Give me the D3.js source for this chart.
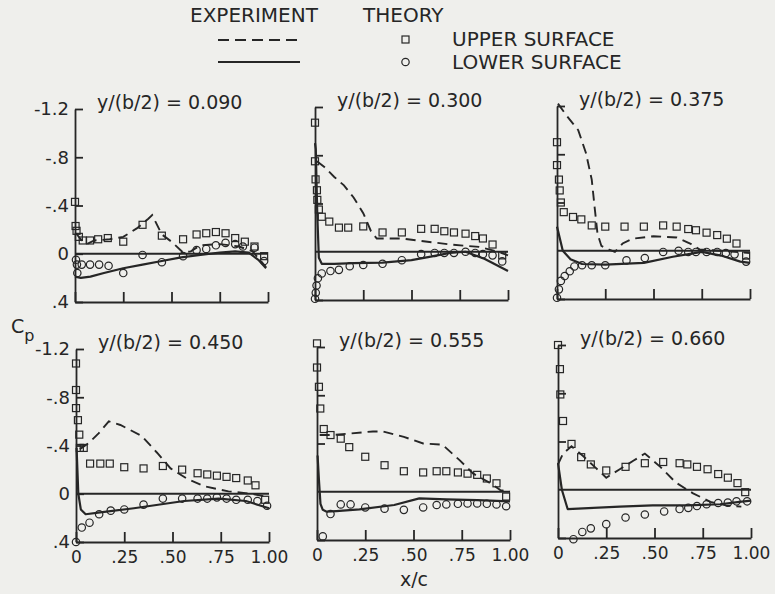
<!DOCTYPE html>
<html><head><meta charset="utf-8">
<script src="https://cdn.jsdelivr.net/npm/d3@7"></script>
<style>
html,body{margin:0;padding:0;background:#efefec;}
svg{display:block;font-family:"DejaVu Sans",sans-serif;}
</style></head><body>
<svg id="chart" width="775" height="594"></svg>
<script>
// Spanwise stations y/(b/2), one panel each
const stations = ["0.090", "0.300", "0.375", "0.450", "0.555", "0.660"];

// Pressure coefficient distributions, pairs of [x/c, Cp]
// dashed curves
const dash090 = [[0.005,-0.17],[0.03,-0.12],[0.06,-0.08],[0.1,-0.11],[0.18,-0.12],[0.25,-0.14],[0.32,-0.21],[0.38,-0.29],[0.4,-0.32],[0.45,-0.16],[0.5,-0.1],[0.56,-0.01],[0.6,-0.02],[0.65,-0.07],[0.75,-0.08],[0.85,-0.06],[0.92,-0.02],[0.99,0.11]];
const dash300 = [[0.01,-0.75],[0.05,-0.7],[0.1,-0.62],[0.15,-0.55],[0.2,-0.45],[0.25,-0.32],[0.29,-0.17],[0.32,-0.11],[0.45,-0.11],[0.55,-0.09],[0.7,-0.06],[0.85,-0.04],[0.95,0.0],[1.0,0.03]];
const dash375 = [[0.005,-1.22],[0.05,-1.12],[0.11,-1.0],[0.15,-0.81],[0.18,-0.59],[0.195,-0.36],[0.21,-0.14],[0.23,-0.04],[0.27,-0.01],[0.3,0.01],[0.34,-0.06],[0.39,-0.1],[0.5,-0.12],[0.62,-0.11],[0.69,-0.06],[0.74,-0.01],[0.85,0.0],[1.0,0.02]];
const dash450 = [[0.02,-0.37],[0.065,-0.42],[0.117,-0.5],[0.17,-0.6],[0.23,-0.57],[0.34,-0.48],[0.42,-0.34],[0.49,-0.21],[0.58,-0.12],[0.67,-0.06],[0.79,-0.02],[0.91,0.0],[1.0,0.03]];
const dash555 = [[0.014,-0.47],[0.075,-0.47],[0.15,-0.48],[0.29,-0.5],[0.34,-0.5],[0.45,-0.455],[0.55,-0.4],[0.65,-0.39],[0.74,-0.26],[0.81,-0.15],[0.9,-0.07],[0.95,-0.014],[1.0,0.0]];
const dash660 = [[0,-0.21],[0.026,-0.3],[0.07,-0.36],[0.13,-0.28],[0.19,-0.19],[0.25,-0.1],[0.32,-0.17],[0.39,-0.24],[0.45,-0.3],[0.53,-0.19],[0.61,-0.06],[0.7,0.03],[0.79,0.1],[0.87,0.13],[0.95,0.14]];

// solid curves
const solid090 = [[0,0.19],[0.03,0.2],[0.08,0.19],[0.15,0.16],[0.25,0.12],[0.35,0.09],[0.45,0.06],[0.55,0.03],[0.65,0.01],[0.75,-0.01],[0.83,-0.02],[0.9,-0.01],[0.95,0.05],[0.99,0.12]];
const solid300 = [[0,-0.9],[0.004,-0.85],[0.012,-0.3],[0.02,0.05],[0.035,0.1],[0.1,0.1],[0.2,0.095],[0.35,0.09],[0.5,0.07],[0.6,0.04],[0.7,0.01],[0.78,0.0],[0.88,0.06],[1.0,0.16]];
const solid375 = [[0,-0.2],[0.03,0.0],[0.07,0.07],[0.13,0.11],[0.25,0.115],[0.45,0.1],[0.6,0.05],[0.75,0.01],[0.85,0.04],[0.95,0.09],[1.0,0.1]];
const solid450 = [[0.003,-0.38],[0.012,0.0],[0.025,0.13],[0.05,0.17],[0.126,0.155],[0.3,0.12],[0.56,0.06],[0.74,0.04],[0.88,0.06],[1.0,0.12]];
const solid555 = [[0.003,-0.3],[0.01,-0.1],[0.018,0.1],[0.03,0.15],[0.05,0.165],[0.1,0.16],[0.22,0.146],[0.4,0.11],[0.53,0.055],[0.67,0.063],[0.83,0.07],[1.0,0.08]];
const solid660 = [[0,-0.22],[0.02,0.0],[0.05,0.16],[0.32,0.14],[0.49,0.13],[0.67,0.13],[0.84,0.12],[0.94,0.1],[1.0,0.09]];

// upper surface points (squares)
const upper090 = [[0,-0.43],[0.003,-0.23],[0.008,-0.19],[0.02,-0.14],[0.04,-0.11],[0.078,-0.11],[0.12,-0.12],[0.17,-0.13],[0.25,-0.1],[0.35,-0.24],[0.45,-0.15],[0.56,-0.12],[0.63,-0.16],[0.68,-0.17],[0.73,-0.18],[0.78,-0.17],[0.83,-0.13],[0.88,-0.1],[0.93,-0.06],[0.98,0.02]];
const upper300 = [[0,-1.07],[0,-0.75],[0.003,-0.6],[0.01,-0.51],[0.012,-0.43],[0.02,-0.35],[0.035,-0.29],[0.074,-0.25],[0.124,-0.2],[0.172,-0.2],[0.25,-0.21],[0.35,-0.16],[0.45,-0.16],[0.55,-0.19],[0.62,-0.19],[0.67,-0.17],[0.72,-0.16],[0.78,-0.15],[0.83,-0.13],[0.87,-0.11],[0.92,-0.06],[0.97,0.03]];
const upper375 = [[0,-0.9],[0,-0.71],[0.01,-0.59],[0.014,-0.5],[0.02,-0.4],[0.035,-0.32],[0.083,-0.28],[0.126,-0.26],[0.18,-0.21],[0.25,-0.2],[0.35,-0.2],[0.45,-0.2],[0.55,-0.21],[0.62,-0.2],[0.68,-0.18],[0.72,-0.17],[0.775,-0.15],[0.83,-0.13],[0.88,-0.1],[0.93,-0.06],[0.98,0.04]];
const upper450 = [[0,-1.08],[0,-0.86],[0,-0.71],[0.01,-0.61],[0.017,-0.49],[0.02,-0.38],[0.04,-0.38],[0.073,-0.25],[0.126,-0.25],[0.175,-0.25],[0.25,-0.22],[0.35,-0.21],[0.45,-0.23],[0.55,-0.2],[0.63,-0.17],[0.68,-0.16],[0.73,-0.15],[0.78,-0.14],[0.83,-0.13],[0.89,-0.11],[0.93,-0.07],[0.98,0.05]];
const upper555 = [[0,-1.23],[0,-1.03],[0.01,-0.87],[0.017,-0.69],[0.035,-0.52],[0.07,-0.47],[0.123,-0.44],[0.167,-0.37],[0.25,-0.29],[0.35,-0.22],[0.45,-0.17],[0.55,-0.16],[0.62,-0.17],[0.67,-0.17],[0.73,-0.16],[0.78,-0.15],[0.83,-0.14],[0.88,-0.11],[0.93,-0.07],[0.98,0.04]];
const upper660 = [[0,-1.2],[0.01,-1.0],[0.012,-0.79],[0.026,-0.57],[0.07,-0.38],[0.12,-0.27],[0.17,-0.21],[0.25,-0.16],[0.35,-0.19],[0.45,-0.22],[0.545,-0.23],[0.63,-0.22],[0.67,-0.21],[0.72,-0.19],[0.775,-0.17],[0.83,-0.13],[0.88,-0.1],[0.93,-0.055],[0.97,0.02]];

// lower surface points (circles)
const lower090 = [[0.005,0.05],[0.01,0.09],[0.012,0.16],[0.035,0.09],[0.078,0.09],[0.125,0.09],[0.174,0.1],[0.25,0.16],[0.35,0.01],[0.45,0.07],[0.56,0.02],[0.63,-0.03],[0.68,-0.04],[0.73,-0.07],[0.78,-0.09],[0.83,-0.08],[0.87,-0.06],[0.93,-0.05],[0.98,0.06]];
const lower300 = [[0,0.39],[0.004,0.34],[0.008,0.28],[0.015,0.22],[0.035,0.18],[0.08,0.16],[0.124,0.15],[0.18,0.12],[0.25,0.11],[0.35,0.1],[0.45,0.07],[0.55,0.02],[0.62,0.01],[0.67,0.01],[0.72,0.01],[0.78,0.0],[0.83,0.01],[0.87,0.02],[0.92,0.03],[0.97,0.08]];
const lower375 = [[0,0.39],[0.01,0.32],[0.02,0.25],[0.04,0.21],[0.066,0.17],[0.09,0.13],[0.13,0.12],[0.18,0.12],[0.25,0.12],[0.36,0.08],[0.455,0.06],[0.55,0.01],[0.63,0.0],[0.68,0.01],[0.72,0.01],[0.775,0.01],[0.83,0.01],[0.875,0.02],[0.92,0.03],[0.98,0.09]];
const lower450 = [[0,0.4],[0.03,0.28],[0.07,0.24],[0.12,0.17],[0.18,0.14],[0.25,0.13],[0.35,0.09],[0.45,0.04],[0.55,0.04],[0.63,0.04],[0.68,0.04],[0.73,0.03],[0.78,0.04],[0.83,0.05],[0.89,0.05],[0.94,0.06],[0.99,0.1]];
const lower555 = [[0.03,0.37],[0.07,0.185],[0.123,0.105],[0.174,0.105],[0.25,0.13],[0.35,0.14],[0.45,0.15],[0.55,0.13],[0.62,0.11],[0.67,0.105],[0.73,0.1],[0.78,0.097],[0.83,0.097],[0.88,0.1],[0.93,0.105],[0.98,0.12]];
const lower660 = [[0.08,0.41],[0.126,0.35],[0.17,0.32],[0.25,0.285],[0.35,0.23],[0.45,0.205],[0.55,0.18],[0.63,0.16],[0.675,0.15],[0.72,0.135],[0.77,0.12],[0.83,0.11],[0.88,0.107],[0.925,0.096],[0.98,0.096]];

// Axis ticks
const cpTicks = [-1.2, -0.8, -0.4, 0.4];
const cpTickLabels = ["-1.2", "-.8", "-.4", "0", ".4"];
const cpLabelValues = [-1.2, -0.8, -0.4, 0, 0.4];
const xTicks = [0, 0.25, 0.5, 0.75, 1.0];
const xTickLabels = ["0", ".25", ".50", ".75", "1.00"];

const dashSets = [dash090, dash300, dash375, dash450, dash555, dash660];
const solidSets = [solid090, solid300, solid375, solid450, solid555, solid660];
const upperSets = [upper090, upper300, upper375, upper450, upper555, upper660];
const lowerSets = [lower090, lower300, lower375, lower450, lower555, lower660];

const ink = "#262626";
const svg = d3.select("#chart");

// panel frames: origin of x/c axis and top of Cp axis
const frames = [
  {x0: 75, yTop: 109}, {x0: 315, yTop: 107}, {x0: 557, yTop: 106},
  {x0: 76, yTop: 349}, {x0: 317, yTop: 347}, {x0: 558, yTop: 345}
];
const W = 193, H = 193;

frames.forEach((f, i) => {
  const col = i % 3, row = Math.floor(i / 3);
  const x = d3.scaleLinear().domain([0, 1]).range([f.x0, f.x0 + W]);
  const y = d3.scaleLinear().domain([-1.2, 0.4]).range([f.yTop, f.yTop + H]);
  const g = svg.append("g");

  // Cp axis, ticks pointing into the panel
  const yAxis = d3.axisLeft(y).tickSizeInner(-8).tickSizeOuter(0).tickPadding(6);
  if (col === 0) {
    yAxis.tickValues(cpLabelValues).tickFormat((d, k) => cpTickLabels[k]);
  } else {
    yAxis.tickValues(cpTicks).tickFormat("");
  }
  const ya = g.append("g").attr("transform", `translate(${f.x0},0)`).call(yAxis);

  // x/c axis along Cp = 0.4, ticks pointing up
  const xAxis = d3.axisBottom(x).tickValues(xTicks).tickSizeInner(-10).tickSizeOuter(0).tickPadding(9)
    .tickFormat(row === 1 ? (d, k) => xTickLabels[k] : "");
  const xa = g.append("g").attr("transform", `translate(0,${y(0.4)})`).call(xAxis);

  [ya, xa].forEach(a => {
    a.selectAll("path,line").attr("stroke", ink).attr("stroke-width", 1.8);
    a.selectAll("text").attr("fill", ink).attr("font-family", "DejaVu Sans");
  });
  ya.selectAll("text").attr("font-size", 18);
  xa.selectAll("text").attr("font-size", 17);

  // Cp = 0 reference line
  g.append("line")
    .attr("x1", x(0)).attr("x2", x(1)).attr("y1", y(0)).attr("y2", y(0))
    .attr("stroke", ink).attr("stroke-width", 1.8);

  const line = d3.line().x(d => x(d[0])).y(d => y(d[1]));

  g.append("path").datum(solidSets[i]).attr("d", line)
    .attr("fill", "none").attr("stroke", ink).attr("stroke-width", 2.2).attr("stroke-linejoin", "round");
  g.append("path").datum(dashSets[i]).attr("d", line)
    .attr("fill", "none").attr("stroke", ink).attr("stroke-width", 1.9).attr("stroke-dasharray", "10,6");

  g.selectAll("rect.up").data(upperSets[i]).join("rect").attr("class", "up")
    .attr("x", d => x(d[0]) - 3.5).attr("y", d => y(d[1]) - 3.5)
    .attr("width", 7).attr("height", 7)
    .attr("fill", "none").attr("stroke", ink).attr("stroke-width", 1.2);
  g.selectAll("circle.lo").data(lowerSets[i]).join("circle").attr("class", "lo")
    .attr("cx", d => x(d[0])).attr("cy", d => y(d[1])).attr("r", 3.7)
    .attr("fill", "none").attr("stroke", ink).attr("stroke-width", 1.2);

  // station title
  g.append("text").attr("x", f.x0 + 22).attr("y", f.yTop)
    .attr("font-size", 19).attr("fill", ink)
    .text(`y/(b/2) = ${stations[i]}`);
});

// Cp and x/c axis titles
const cp = svg.append("text").attr("x", 11).attr("y", 333).attr("font-size", 19).attr("fill", ink);
cp.append("tspan").text("C");
cp.append("tspan").attr("dy", 8).attr("font-size", 16).text("p");
svg.append("text").attr("x", 414).attr("y", 586).attr("text-anchor", "middle")
  .attr("font-size", 19).attr("fill", ink).text("x/c");

// Legend
const lg = svg.append("g").attr("fill", ink).attr("font-size", 20);
lg.append("text").attr("x", 190).attr("y", 22).text("EXPERIMENT");
lg.append("text").attr("x", 363).attr("y", 22).text("THEORY");
lg.append("line").attr("x1", 218).attr("x2", 300).attr("y1", 40).attr("y2", 40)
  .attr("stroke", ink).attr("stroke-width", 1.9).attr("stroke-dasharray", "11,6");
lg.append("line").attr("x1", 218).attr("x2", 300).attr("y1", 62).attr("y2", 62)
  .attr("stroke", ink).attr("stroke-width", 2.2);
lg.append("rect").attr("x", 402).attr("y", 36).attr("width", 7).attr("height", 7)
  .attr("fill", "none").attr("stroke", ink).attr("stroke-width", 1.2);
lg.append("circle").attr("cx", 405.5).attr("cy", 62).attr("r", 3.7)
  .attr("fill", "none").attr("stroke", ink).attr("stroke-width", 1.2);
lg.append("text").attr("x", 452).attr("y", 46).text("UPPER SURFACE");
lg.append("text").attr("x", 452).attr("y", 69).text("LOWER SURFACE");
</script>
</body></html>
